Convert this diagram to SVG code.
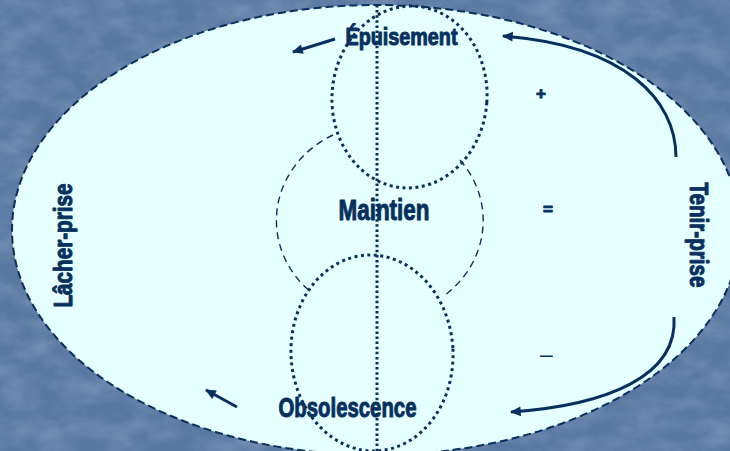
<svg xmlns="http://www.w3.org/2000/svg" width="730" height="451" viewBox="0 0 730 451">
  <defs>
    <filter id="tex" x="0" y="0" width="100%" height="100%">
      <feTurbulence type="fractalNoise" baseFrequency="0.03 0.05" numOctaves="4" seed="7"/>
      <feColorMatrix type="matrix" values="0 0 0 0 1  0 0 0 0 1  0 0 0 0 1  0.3 0 0 0 -0.1"/>
    </filter>
    <marker id="ah" viewBox="0 0 10 10" refX="9" refY="5" markerWidth="4" markerHeight="3.6" orient="auto" markerUnits="strokeWidth">
      <path d="M0,0.5 L10,5 L0,9.5 z" fill="#07305f"/>
    </marker>
    <style>
      .lbl { font-family: "Liberation Sans", Arial, sans-serif; font-weight: bold; fill: #07305f; stroke: #07305f; stroke-width: 1; stroke-linejoin: round; }
      .sym { font-family: "Liberation Sans", Arial, sans-serif; fill: #07305f; }
      .dot { fill: none; stroke: #07305f; stroke-width: 3; stroke-dasharray: 3 3.5; }
      .dash { fill: none; stroke: #07305f; stroke-width: 1.4; stroke-dasharray: 7 5; }
      .arrow { fill: none; stroke: #07305f; stroke-width: 3; marker-end: url(#ah); }
    </style>
  </defs>

  <!-- background -->
  <rect x="0" y="0" width="730" height="451" fill="#5878a2"/>
  <rect x="0" y="0" width="730" height="451" filter="url(#tex)"/>

  <!-- big ellipse -->
  <g id="frame">
    <ellipse cx="376" cy="230" rx="364" ry="225" fill="#e6ffff" stroke="#07305f" stroke-width="2" stroke-dasharray="8 4"/>
  </g>

  <!-- axis -->
  <g id="axis">
    <line x1="377" y1="5" x2="377" y2="451" stroke="#07305f" stroke-width="3" stroke-dasharray="2.5 2.6"/>
  </g>

  <!-- circles -->
  <g id="epuisement-zone">
    <ellipse class="dot" cx="409.5" cy="97" rx="77.5" ry="91" transform="rotate(4 409.5 97)"/>
  </g>
  <g id="maintien-zone">
    <path class="dash" d="M333,135 A103.5,96 0 0,0 312,293"/>
    <path class="dash" d="M460,160 A103.5,96 0 0,1 445,295"/>
  </g>
  <g id="obsolescence-zone">
    <ellipse class="dot" cx="372" cy="353" rx="81" ry="98" transform="rotate(-3 372 353)"/>
  </g>

  <!-- connectors -->
  <g id="connectors">
    <path class="arrow" d="M335,39 L293,52"/>
    <path class="arrow" d="M676,157 C676,100 625,45 503,36"/>
    <path class="arrow" d="M674,317 C678,375 610,405 511,412"/>
    <path class="arrow" d="M237,407 L206,390"/>
  </g>

  <!-- labels -->
  <g id="label-epuisement">
    <text class="lbl" x="345.5" y="45" font-size="23" textLength="112" lengthAdjust="spacingAndGlyphs">Épuisement</text>
  </g>
  <g id="label-maintien">
    <text class="lbl" x="338.5" y="220" font-size="30" textLength="91" lengthAdjust="spacingAndGlyphs">Maintien</text>
  </g>
  <g id="label-obsolescence">
    <text class="lbl" x="278.5" y="417" font-size="27" textLength="138" lengthAdjust="spacingAndGlyphs">Obsolescence</text>
  </g>
  <g id="label-lacher">
    <text class="lbl" transform="translate(72,245.5) rotate(-90)" x="-62" y="0" font-size="25" textLength="124" lengthAdjust="spacingAndGlyphs">Lâcher-prise</text>
  </g>
  <g id="label-tenir">
    <text class="lbl" transform="translate(690,235) rotate(90)" x="-52.5" y="0" font-size="26" textLength="105" lengthAdjust="spacingAndGlyphs">Tenir-prise</text>
  </g>
  <g id="signs">
    <text class="lbl" x="541" y="99" font-size="17" text-anchor="middle">+</text>
    <text class="lbl" x="548" y="215" font-size="17" text-anchor="middle">=</text>
    <text class="sym" x="546.5" y="362" font-size="23" text-anchor="middle">–</text>
  </g>
</svg>
